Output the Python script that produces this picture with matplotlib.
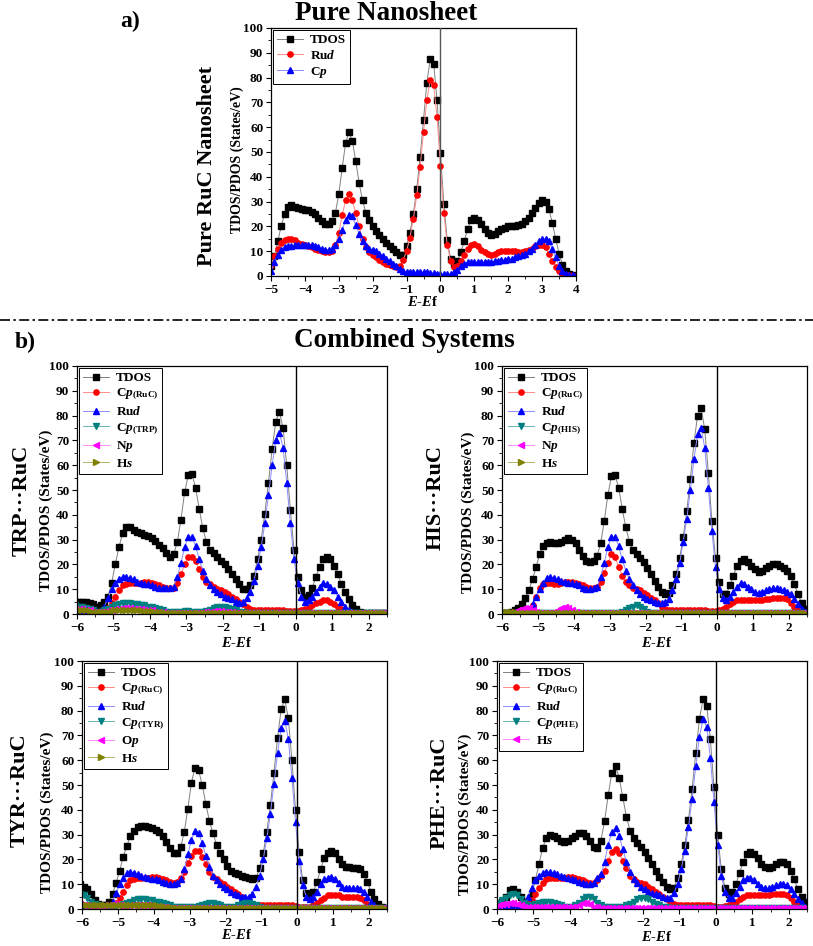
import numpy as np
import matplotlib
matplotlib.use("Agg")
import matplotlib.pyplot as plt
from matplotlib.lines import Line2D
from matplotlib.ticker import MultipleLocator

plt.rcParams['font.family'] = ['Liberation Serif', 'DejaVu Serif']
plt.rcParams['font.weight'] = 'bold'
plt.rcParams['axes.labelweight'] = 'bold'
plt.rcParams['mathtext.fontset'] = 'custom'
plt.rcParams['mathtext.rm'] = 'Liberation Serif:bold'
plt.rcParams['mathtext.it'] = 'Liberation Serif:italic:bold'
plt.rcParams['mathtext.bf'] = 'Liberation Serif:bold'

# ---------------- a) pure RuC nanosheet, E = -5.0 ... 4.0 (step 0.1)
pure_e = np.arange(91) * 0.1 - 5.0
pure_tdos = [4, 8, 14, 20, 25, 28, 28.5, 28, 27.5, 27,
             26.5, 26.5, 26, 25, 23.5, 22, 21, 21, 22, 25.5,
             33, 43.5, 53.5, 58, 54.5, 46.5, 37.5, 30.5, 25.5, 22.5,
             20, 18, 16.5, 15, 13.5, 12, 11, 9.5, 8.5, 8.5,
             12, 17.5, 25, 35, 48, 63, 78, 87.5, 85.5, 71,
             49.5, 29, 14.5, 7, 5, 6, 9.5, 14, 19, 22.5,
             23.5, 22.5, 21, 19, 17.5, 16.5, 17, 18, 19, 19.5,
             20, 20, 20, 20.5, 21, 22, 23.5, 25.5, 27.5, 29.5,
             30.5, 30, 27, 21.5, 15, 9, 4.5, 2, 1, 0.5,
             0.2]
pure_rud = [4.5, 8, 11, 13.5, 14.5, 15, 15, 14.5, 13.5, 13,
            12.5, 12, 11.5, 11, 10.5, 10, 9.5, 9.5, 10, 12.5,
            17.5, 24.5, 30.5, 33, 30.5, 25.5, 20, 15, 11.5, 9.5,
            8.5, 7.5, 6.5, 5.5, 5, 4.5, 4, 3.5, 4, 6.5,
            10, 15.5, 23, 32.5, 44, 58, 71, 79, 77, 64,
            44.5, 25.5, 12.5, 6, 3.5, 4, 6, 8.5, 11, 12.5,
            13, 12, 10.5, 9.5, 9, 8.5, 9, 9.5, 10, 10,
            10, 10, 10, 9.5, 9.5, 10, 10.5, 11, 12, 12.5,
            12.5, 11.5, 9, 6, 3.5, 2, 1, 0.5, 0.3, 0.2,
            0.1]
pure_cp = [2, 5.5, 8.5, 10.5, 11.5, 12, 12, 12.5, 12.5, 12.5,
           12.5, 12.5, 12.5, 12, 11.5, 11, 10.5, 10.5, 11, 12.5,
           15, 18.5, 22.5, 24.5, 24, 20.5, 17, 14, 12, 11,
           10.5, 10, 9, 8, 7, 6, 5, 4, 3, 2,
           1.5, 1.5, 1.5, 1.5, 1.5, 1.5, 1.5, 1.2, 1.2, 1,
           1, 0.8, 0.8, 1, 1.5, 2.5, 4, 5, 5.5, 5.5,
           5.5, 5.5, 5.5, 5.5, 5.5, 5.5, 6, 6, 6.5, 6.5,
           7, 7, 7.5, 8, 8.5, 9, 10, 11, 12.5, 14,
           15, 15, 14, 11, 7.5, 4, 2, 1, 0.5, 0.3,
           0.2]

# ---------------- b) combined systems, 86 points from -6.05 eV (step 0.1)
comb_e = np.arange(86) * 0.1 - 6.05

trp_tdos = [5, 5, 5, 5, 4.5, 4, 3, 3.5, 5, 7,
            12.5, 20, 27, 32.5, 35, 35, 34, 33, 32.5, 32,
            31.5, 30.5, 29.5, 28, 26.5, 24.5, 23, 24, 29, 38,
            49, 56, 56.5, 51, 42.5, 34.5, 29, 26, 24.5, 23,
            21.5, 20, 18, 16, 14, 12, 10, 10, 11.5, 15.5,
            22, 30, 40.5, 53, 66.5, 77.5, 81.5, 75, 60, 42,
            26, 15, 9.5, 7, 7.5, 10.5, 15, 19, 22, 23,
            22, 19.5, 16, 12, 9, 6, 3.5, 2, 1, 0.5,
            0.5, 0.5, 0.5, 0.5, 0.5, 0.5]
trp_cp = [0.5, 0.5, 0.5, 0.5, 0.5, 0.5, 0.5, 1, 1.5, 2.5,
          4.5, 7, 9.5, 11.5, 12, 12.5, 12.5, 12.5, 12.5, 13,
          13, 12.5, 12, 11.5, 11, 10.5, 10.5, 10.5, 12.5, 16,
          20, 23, 23, 21.5, 18, 15, 13, 12, 11, 10,
          9.5, 9, 8, 7, 6, 5, 4, 3, 2, 1.5,
          1.5, 1.5, 1.5, 1.5, 1.5, 1.5, 1.5, 1.5, 1.2, 1.2,
          1.2, 1.2, 1.5, 2, 2.5, 3.5, 4.5, 5, 5.5, 5.5,
          5, 4, 3, 2, 1, 0.5, 0.3, 0.3, 0.3, 0.3,
          0.3, 0.3, 0.3, 0.3, 0.3, 0.3]
trp_rud = [0.5, 0.5, 0.5, 0.5, 0.5, 0.5, 0.8, 1.5, 3, 6.5,
           10, 12.5, 14, 15, 15, 14.5, 14, 13, 12.5, 12,
           12, 11.5, 11, 10.5, 10.5, 10.5, 10.5, 11, 15, 20.5,
           27, 31, 31, 27.5, 22, 17.5, 14, 11.5, 10, 9,
           8, 7, 6.5, 6, 5, 4.5, 5, 6.5, 9, 13.5,
           19.5, 27, 36.5, 48, 60, 70, 73, 67, 53, 36.5,
           22, 12.5, 7, 5, 5.5, 7, 9, 11, 12.5, 12,
           11, 9.5, 7, 5, 3, 1.5, 0.8, 0.5, 0.5, 0.5,
           0.5, 0.5, 0.5, 0.5, 0.5, 0.5]
trp_cpx = [3.5, 3, 3, 2.5, 2, 1.5, 1, 1, 1.5, 2,
           3, 3.5, 4, 4.5, 4.5, 4.5, 4, 4, 3.5, 3.5,
           3, 3, 2.5, 2, 1.5, 1, 0.8, 0.8, 1, 1,
           1.2, 1.2, 1, 1, 1, 1, 1.2, 1.8, 2.5, 3,
           3, 3, 2.5, 2, 1.5, 1, 0.8, 0.5, 0.5, 0.5,
           0.5, 0.5, 0.5, 0.5, 0.5, 0.5, 0.5, 0.5, 0.5, 0.5,
           0.5, 0.5, 0.5, 0.5, 0.5, 0.5, 0.5, 0.5, 0.5, 0.5,
           0.5, 0.5, 0.5, 0.5, 0.5, 0.5, 0.5, 0.5, 0.5, 0.5,
           0.5, 0.5, 0.5, 0.5, 0.5, 0.5]
trp_np = [2, 2, 2, 1.5, 1.5, 1, 1, 1, 1, 1.5,
          1.5, 2, 2, 2.5, 2.5, 2.5, 2, 2, 2, 1.5,
          1.5, 1.5, 1, 1, 0.8, 0.5, 0.5, 0.5, 0.5, 0.5,
          0.5, 0.5, 0.5, 0.5, 0.5, 0.8, 1, 1, 1.2, 1.2,
          1.2, 1, 1, 0.8, 0.5, 0.5, 0.5, 0.5, 0.5, 0.5,
          0.5, 0.5, 0.5, 0.5, 0.5, 0.5, 0.5, 0.5, 0.5, 0.5,
          0.5, 0.5, 0.5, 0.5, 0.5, 0.5, 0.5, 0.5, 0.5, 0.5,
          0.5, 0.5, 0.5, 0.5, 0.5, 0.5, 0.5, 0.5, 0.5, 0.5,
          0.5, 0.5, 0.5, 0.5, 0.5, 0.5]
trp_hs = [1.5, 1.5, 1.5, 1.5, 1.2, 1, 0.8, 0.8, 0.8, 1,
          1.2, 1.5, 1.5, 1.5, 1.5, 1.5, 1.5, 1.5, 1.5, 1.2,
          1.2, 1.2, 1, 1, 0.8, 0.5, 0.3, 0.3, 0.3, 0.3,
          0.3, 0.3, 0.3, 0.3, 0.3, 0.3, 0.3, 0.3, 0.3, 0.3,
          0.3, 0.3, 0.3, 0.3, 0.3, 0.3, 0.3, 0.3, 0.3, 0.3,
          0.3, 0.3, 0.3, 0.3, 0.3, 0.3, 0.3, 0.3, 0.3, 0.3,
          0.3, 0.3, 0.3, 0.3, 0.3, 0.3, 0.3, 0.3, 0.3, 0.3,
          0.3, 0.3, 0.3, 0.3, 0.3, 0.3, 0.3, 0.3, 0.3, 0.3,
          0.3, 0.3, 0.3, 0.3, 0.3, 0.3]

his_tdos = [0.5, 0.5, 0.5, 0.8, 1.5, 2.5, 4, 6.5, 9.5, 14,
            19, 24, 27.5, 28.5, 29, 28.5, 28.5, 29, 30, 30.5,
            30, 28.5, 26, 23.5, 21.5, 21, 21.5, 23.5, 28.5, 37.5,
            48, 55.5, 56, 51, 42.5, 35, 29, 26, 24, 22.5,
            21, 18.5, 16, 13.5, 11, 9, 8, 8.5, 11.5, 16,
            22.5, 31, 41.5, 54.5, 69, 80, 83, 74.5, 57, 37.5,
            22.5, 13, 8, 8, 11.5, 15.5, 19.5, 21.5, 22, 21,
            19.5, 18, 17, 17.5, 18.5, 19.5, 20, 20, 19.5, 18.5,
            17.5, 15.5, 12, 8, 4.5, 2]
his_cp = [0.3, 0.3, 0.3, 0.3, 0.3, 0.3, 0.5, 0.8, 1.5, 3.5,
          7, 10.5, 12, 12.5, 12.5, 12, 12, 12.5, 13, 13,
          13, 12.5, 12, 11.5, 11, 10.5, 10.5, 11, 13, 16.5,
          20.5, 24, 23, 19, 15.5, 13, 11.5, 10.5, 10, 9.5,
          8.5, 7.5, 6.5, 5.5, 4.5, 3, 2, 1.5, 1.5, 1.5,
          1.5, 1.5, 1.5, 1.5, 1.5, 1.5, 1.5, 1.5, 1.2, 1.2,
          1.2, 1.5, 2, 3, 4, 5, 5.5, 5.5, 5.5, 5.5,
          5.5, 5.5, 5.5, 5.5, 6, 6, 6.5, 6.5, 6.5, 6.5,
          6, 4.5, 3, 1.5, 0.5, 0.3]
his_rud = [0.3, 0.3, 0.3, 0.3, 0.3, 0.3, 0.5, 1, 2, 4,
           7, 10, 12.5, 14.5, 15, 14.5, 14, 13.5, 13, 12.5,
           12.5, 12, 11.5, 10.5, 10, 10, 10.5, 11, 15, 20.5,
           27, 31, 31, 27.5, 22, 17.5, 14, 11.5, 9.5, 8,
           7, 6, 5.5, 5, 4.5, 4.5, 5, 6, 9.5, 14,
           20.5, 29, 38.5, 50, 62.5, 72.5, 75, 67, 51, 33.5,
           19, 10, 6.5, 5.5, 7, 9, 11, 12.5, 12, 11,
           10, 9, 8.5, 9, 9.5, 10, 10.5, 10.5, 10, 9.5,
           9, 8, 6, 4, 2, 1]
his_cpx = [0.5, 0.5, 0.5, 0.5, 0.5, 0.5, 0.5, 0.5, 0.5, 0.5,
           0.5, 0.5, 0.5, 0.5, 0.5, 0.5, 0.5, 0.5, 0.5, 0.5,
           0.5, 0.5, 0.5, 0.5, 0.5, 0.5, 0.5, 0.5, 0.5, 0.5,
           0.3, 0.3, 0.3, 0.3, 0.8, 1.5, 2.5, 3, 3.5, 3,
           2, 1, 0.5, 0.3, 0.3, 0.3, 0.3, 0.3, 0.3, 0.3,
           0.3, 0.3, 0.3, 0.3, 0.3, 0.3, 0.3, 0.3, 0.3, 0.3,
           0.3, 0.3, 0.3, 0.3, 0.3, 0.3, 0.3, 0.3, 0.3, 0.3,
           0.3, 0.3, 0.3, 0.3, 0.3, 0.3, 0.3, 0.3, 0.3, 0.3,
           0.3, 0.3, 0.3, 0.3, 0.3, 0.3]
his_np = [0.3, 0.3, 0.3, 0.5, 1, 1.5, 2, 2.5, 2.5, 1.5,
          0.8, 0.5, 0.5, 0.5, 0.5, 0.8, 1.5, 2.5, 3, 2.5,
          1.5, 0.8, 0.5, 0.3, 0.3, 0.3, 0.3, 0.3, 0.3, 0.3,
          0.3, 0.3, 0.3, 0.3, 0.3, 0.3, 0.3, 0.3, 0.3, 0.3,
          0.3, 0.3, 0.3, 0.3, 0.3, 0.3, 0.3, 0.3, 0.3, 0.3,
          0.3, 0.3, 0.3, 0.3, 0.3, 0.3, 0.3, 0.3, 0.3, 0.3,
          0.3, 0.3, 0.3, 0.3, 0.3, 0.3, 0.3, 0.3, 0.3, 0.3,
          0.3, 0.3, 0.3, 0.3, 0.3, 0.3, 0.3, 0.3, 0.3, 0.3,
          0.3, 0.3, 0.3, 0.3, 0.3, 0.3]
his_hs = [0.8, 0.8, 0.8, 0.8, 0.8, 0.5, 0.5, 0.5, 0.5, 0.5,
          0.5, 0.5, 0.5, 0.5, 0.5, 0.5, 0.5, 0.5, 0.5, 0.5,
          0.5, 0.5, 0.5, 0.5, 0.5, 0.5, 0.5, 0.5, 0.5, 0.5,
          0.5, 0.5, 0.5, 0.5, 0.5, 0.5, 0.5, 0.5, 0.5, 0.5,
          0.5, 0.5, 0.5, 0.5, 0.5, 0.5, 0.5, 0.5, 0.5, 0.5,
          0.5, 0.5, 0.5, 0.5, 0.5, 0.5, 0.5, 0.5, 0.5, 0.5,
          0.5, 0.5, 0.5, 0.5, 0.5, 0.5, 0.5, 0.5, 0.5, 0.5,
          0.5, 0.5, 0.5, 0.5, 0.5, 0.5, 0.5, 0.5, 0.5, 0.5,
          0.5, 0.5, 0.5, 0.5, 0.5, 0.5]

tyr_tdos = [10, 9, 8, 6, 3.5, 2, 1.5, 1.5, 3, 6,
            10.5, 15.5, 21, 25.5, 29.5, 31.5, 33, 33.5, 33.5, 33,
            32.5, 32, 31, 29.5, 27, 24.5, 22.5, 22.5, 25, 31,
            40.5, 51, 57, 56, 50, 42.5, 35.5, 30.5, 26, 22.5,
            20, 17.5, 15.5, 14.5, 14, 13.5, 13, 12.5, 12, 12.5,
            16.5, 22.5, 31, 42, 55, 69, 80.5, 84.5, 77, 60,
            40, 23, 11.5, 6.5, 5, 7, 11, 16, 20.5, 22.5,
            23.5, 22.5, 20, 18, 17, 17, 16.5, 16.5, 16, 14,
            11, 7, 4, 2, 1, 0.5]
tyr_cp = [0.3, 0.3, 0.3, 0.3, 0.3, 0.3, 0.3, 0.3, 0.8, 1.5,
          2.5, 4.5, 7, 9.5, 11.5, 12, 12.5, 12.5, 12.5, 12.5,
          13, 13, 12.5, 12, 11.5, 11, 10.5, 11, 12.5, 15,
          18.5, 21.5, 23.5, 23.5, 21, 18, 15, 13, 12, 11,
          10, 9, 8, 7, 6, 5, 4, 3, 2, 1.8,
          1.5, 1.5, 1.5, 1.5, 1.5, 1.5, 1.5, 1.5, 1.5, 1.5,
          1.2, 1, 1, 1, 1, 1.5, 2.5, 3.5, 4.5, 5.5,
          5.5, 5.5, 5.5, 5, 5, 5, 5, 5, 4.5, 3.5,
          2, 1, 0.5, 0.3, 0.3, 0.3]
tyr_rud = [0.3, 0.3, 0.3, 0.3, 0.3, 0.3, 0.3, 0.5, 1, 3,
           6.5, 10, 12.5, 14.5, 15, 14.5, 14, 13.5, 13, 12.5,
           12, 12, 11.5, 11, 10.5, 10, 10, 10.5, 12, 16,
           22, 28, 31.5, 30.5, 26.5, 21.5, 17, 13.5, 11.5, 10,
           9, 8, 7, 6, 5.5, 5, 5, 5, 6, 9,
           13.5, 20, 28.5, 38.5, 50.5, 63, 73, 76, 68.5, 53,
           35, 19.5, 9.5, 5, 4, 5, 7, 10, 12, 12.5,
           13, 12, 10.5, 9, 8.5, 8.5, 8.5, 8.5, 8, 7,
           5, 3, 1.5, 0.5, 0.3, 0.3]
tyr_cpx = [6, 5.5, 4.5, 3, 2, 1.5, 1, 1, 1, 1,
           1.2, 1.5, 2, 2.5, 3, 3.5, 4, 4, 4, 3.5,
           3.5, 3, 3, 2.5, 2, 1.5, 1, 0.8, 0.8, 0.8,
           0.8, 0.8, 1, 1.2, 1.5, 2, 2.5, 2.5, 2, 1.5,
           1, 0.8, 0.8, 1, 1.5, 2, 2.5, 2.5, 2, 1.5,
           1, 0.5, 0.5, 0.5, 0.5, 0.5, 0.5, 0.5, 0.5, 0.5,
           0.5, 0.5, 0.5, 0.5, 0.5, 0.5, 0.5, 0.5, 0.5, 0.5,
           0.5, 0.5, 0.5, 0.5, 0.5, 0.5, 0.5, 0.5, 0.5, 0.5,
           0.5, 0.5, 0.5, 0.5, 0.5, 0.5]
tyr_op = [2, 1.5, 1.5, 1, 1, 1, 1, 1.5, 1.5, 2,
          2, 1.5, 1, 1, 1.5, 1.5, 1.5, 1.5, 1.5, 1.5,
          1, 1, 1, 0.8, 0.8, 0.5, 0.5, 0.5, 0.5, 0.5,
          0.5, 0.5, 0.5, 0.5, 0.5, 0.5, 0.5, 0.5, 0.5, 0.5,
          0.5, 0.5, 0.5, 0.5, 0.5, 0.5, 0.5, 0.5, 0.5, 0.5,
          0.5, 0.5, 0.5, 0.5, 0.5, 0.5, 0.5, 0.5, 0.5, 0.5,
          0.5, 0.5, 0.5, 0.5, 0.5, 0.5, 0.5, 0.5, 0.5, 0.5,
          0.5, 0.5, 0.5, 0.5, 0.5, 0.5, 0.5, 0.5, 0.5, 0.5,
          0.5, 0.5, 0.5, 0.5, 0.5, 0.5]
tyr_hs = [1.5, 1.5, 1.5, 1.5, 1.5, 1.5, 1.5, 1.5, 1.5, 1.5,
          1.5, 1.5, 1.5, 1.5, 1.5, 1.5, 1.5, 1.5, 1.5, 1.5,
          1.5, 1.5, 1.2, 1.2, 1, 0.8, 0.5, 0.3, 0.3, 0.3,
          0.3, 0.3, 0.3, 0.3, 0.3, 0.3, 0.3, 0.3, 0.3, 0.3,
          0.3, 0.3, 0.3, 0.3, 0.3, 0.3, 0.3, 0.3, 0.3, 0.3,
          0.3, 0.3, 0.3, 0.3, 0.3, 0.3, 0.3, 0.3, 0.3, 0.3,
          0.3, 0.3, 0.3, 0.3, 0.3, 0.3, 0.3, 0.3, 0.3, 0.3,
          0.3, 0.3, 0.3, 0.3, 0.3, 0.3, 0.3, 0.3, 0.3, 0.3,
          0.3, 0.3, 0.3, 0.3, 0.3, 0.3]

phe_tdos = [1.5, 2, 3, 5, 7.5, 8, 7, 5, 3, 3,
            6, 11.5, 18, 24.5, 28.5, 30, 29.5, 28.5, 27.5, 27,
            27.5, 28.5, 29.5, 30.5, 30.5, 29.5, 27.5, 25, 24.5, 27.5,
            35.5, 46, 55, 57.5, 53, 45, 37, 31.5, 28.5, 26.5,
            25, 23, 20.5, 18, 15.5, 13, 11, 9, 8, 8.5,
            12.5, 18, 26, 36, 48.5, 63, 76.5, 84.5, 82, 68.5,
            49, 30, 16, 8.5, 6, 7, 10, 14.5, 19, 22,
            23, 22, 20.5, 18, 17, 16.5, 17, 18, 19, 19,
            18, 15.5, 12, 8, 5, 3]
phe_cp = [0.3, 0.3, 0.3, 0.3, 0.3, 0.3, 0.3, 0.3, 1, 2,
          3.5, 6, 8.5, 10.5, 12, 12.5, 12.5, 12.5, 12.5, 12.5,
          13, 13, 12.5, 12, 11.5, 11, 10.5, 10.5, 11.5, 13.5,
          15.5, 19.5, 23, 24, 22.5, 19.5, 16.5, 13.5, 12, 11,
          10.5, 10, 9, 8, 7, 6, 5, 4, 3, 2,
          1.5, 1.5, 1.5, 1.5, 1.5, 1.5, 1.5, 1.5, 1.5, 1.5,
          1.2, 1, 1, 1.2, 1.5, 2, 3, 4, 5, 5.5,
          5.5, 5.5, 5.5, 5.5, 5.5, 5.5, 6, 6, 6, 6,
          5.5, 4.5, 3, 2, 1, 0.5]
phe_rud = [0.3, 0.3, 0.3, 0.3, 0.3, 0.3, 0.5, 1, 2.5, 5,
           8.5, 11.5, 13.5, 14.5, 15, 15, 14.5, 14, 13.5, 13,
           12.5, 12, 11.5, 11, 10.5, 10, 10, 10.5, 12.5, 14,
           19, 26, 31, 32.5, 29.5, 24, 19, 15, 12, 10.5,
           9, 8, 7, 6.5, 6, 5.5, 5, 4.5, 4.5, 6.5,
           10, 16, 23.5, 33, 44.5, 57.5, 69.5, 76.5, 73.5, 61,
           43, 26, 13.5, 7, 4.5, 4.5, 6.5, 9, 11.5, 12.5,
           12.5, 11.5, 10, 9, 8.5, 8.5, 9, 9.5, 10, 10,
           9.5, 8, 6, 4, 2.5, 1]
phe_cpx = [2, 2.5, 3.5, 4.5, 5.5, 6, 5.5, 4, 2.5, 1.5,
           1.5, 2, 2.5, 3, 3, 3, 2.5, 2, 1.5, 1,
           1, 1, 1.5, 2.5, 4, 5, 5, 4, 2.5, 1.5,
           1, 0.8, 0.8, 0.8, 1, 1, 1.5, 2, 3, 4,
           4.5, 4.5, 4, 3, 2, 1.5, 1, 0.8, 0.5, 0.5,
           0.5, 0.5, 0.5, 0.5, 0.5, 0.5, 0.5, 0.5, 0.5, 0.5,
           0.5, 0.5, 0.5, 0.5, 0.5, 0.5, 0.5, 0.5, 0.5, 0.5,
           0.5, 0.5, 0.5, 0.5, 0.5, 0.5, 0.5, 0.5, 0.5, 0.5,
           0.5, 0.5, 0.5, 0.5, 0.5, 0.5]
phe_hs = [1, 1.5, 2, 2, 2.5, 2.5, 2, 1.5, 1, 0.8,
          0.8, 1, 1, 1, 1, 0.8, 0.8, 0.8, 0.8, 0.8,
          0.8, 0.8, 1, 1.5, 2.5, 2.5, 2, 1, 0.8, 0.5,
          0.5, 0.5, 0.5, 0.5, 0.5, 0.5, 0.5, 0.5, 0.5, 0.5,
          0.5, 0.5, 0.5, 0.5, 0.5, 0.5, 0.5, 0.5, 0.5, 0.5,
          0.5, 0.5, 0.5, 0.5, 0.5, 0.5, 0.5, 0.5, 0.5, 0.5,
          0.5, 0.5, 0.5, 0.5, 0.5, 0.5, 0.5, 0.5, 0.5, 0.5,
          0.5, 0.5, 0.5, 0.5, 0.5, 0.5, 0.5, 0.5, 0.5, 0.5,
          0.5, 0.5, 0.5, 0.5, 0.5, 0.5]

# line colour, marker, marker colour
STY = {
    'black': ('#808080', 's', 'black'),
    'red': ('#ff8c8c', 'o', 'red'),
    'blue': ('#8c8cff', '^', 'blue'),
    'teal': ('#66b3b3', 'v', '#008080'),
    'magenta': ('#ff8cff', '<', '#ff00ff'),
    'olive': ('#b3b366', '>', '#808000'),
}

W, H = 813, 946
fig = plt.figure(figsize=(W / 100, H / 100), dpi=100)


def px_axes(left, top, right, bottom):
    return fig.add_axes([left / W, 1 - bottom / H, (right - left) / W, (bottom - top) / H])


def ftext(x, y, s, **kw):
    fig.text(x / W, 1 - y / H, s, ha='center', va='center', **kw)


def draw_panel(ax, e, series, xlim, zero_color='black'):
    for y, name, lab in series:
        lc, mk, mc = STY[name]
        ax.plot(e, y, '-', color=lc, lw=0.7, marker=mk, ms=3.8,
                mfc=mc, mec=mc, label=lab)
    ax.axvline(0, color=zero_color, lw=1.0, zorder=5)
    ax.set_xlim(*xlim)
    ax.set_ylim(0, 100)
    ax.xaxis.set_major_locator(MultipleLocator(1))
    ax.xaxis.set_minor_locator(MultipleLocator(0.5))
    ax.yaxis.set_major_locator(MultipleLocator(10))
    ax.yaxis.set_minor_locator(MultipleLocator(5))
    ax.tick_params(which='both', direction='out', top=False, right=False,
                   labelsize=9.5, pad=2)
    ax.tick_params(which='major', length=3.5, width=0.8)
    ax.tick_params(which='minor', length=2, width=0.6)
    for sp in ax.spines.values():
        sp.set_linewidth(0.9)
    leg = ax.legend(loc='upper left', borderaxespad=0.15, fancybox=False,
                    edgecolor='black', framealpha=1, handlelength=2.0,
                    handletextpad=0.5, labelspacing=0.22, borderpad=0.3,
                    prop={'weight': 'bold', 'size': 9.5})
    leg.get_frame().set_linewidth(0.7)


XLAB = r'$E$-$E$f'
YLAB = 'TDOS/PDOS (States/eV)'

# ---- a) pure nanosheet
ax_a = px_axes(271, 28, 576, 276)
draw_panel(ax_a, pure_e,
           [(pure_tdos, 'black', 'TDOS'),
            (pure_rud, 'red', r'Ru$d$'),
            (pure_cp, 'blue', r'C$p$')],
           (-5, 4), zero_color='#555555')
ftext(130, 21, 'a)', fontsize=17, fontweight='bold')
ftext(386, 14, 'Pure Nanosheet', fontsize=19.5, fontweight='bold')
ftext(207, 166, 'Pure RuC Nanosheet', fontsize=16, fontweight='bold', rotation=90)
ftext(237, 160, YLAB, fontsize=10, fontweight='bold', rotation=90)
ftext(423, 302, XLAB, fontsize=10.5)

# separator
fig.add_artist(Line2D([0, 1], [1 - 320 / H, 1 - 320 / H], color='black',
                      lw=1.2, ls=(0, (6, 2, 1.5, 2))))

ftext(25, 342, 'b)', fontsize=17, fontweight='bold')
ftext(404, 340, 'Combined Systems', fontsize=19.5, fontweight='bold')

DOTS = '\u00b7\u00b7\u00b7'
panels = [
    ((77, 366, 387, 614), 'TRP', 'N',
     [trp_tdos, trp_cp, trp_rud, trp_cpx, trp_np, trp_hs],
     (22, 500), (46, 510), (237, 643)),
    ((502, 366, 807, 614), 'HIS', 'N',
     [his_tdos, his_cp, his_rud, his_cpx, his_np, his_hs],
     (436, 497), (468, 512), (657, 643)),
    ((82, 661, 387, 909), 'TYR', 'O',
     [tyr_tdos, tyr_cp, tyr_rud, tyr_cpx, tyr_op, tyr_hs],
     (20, 790), (47, 812), (237, 935)),
    ((497, 661, 807, 909), 'PHE', None,
     [phe_tdos, phe_cp, phe_rud, phe_cpx, phe_hs],
     (440, 793), (465, 814), (657, 937)),
]

for box, amino, hetero, ys, big_xy, small_xy, xl_xy in panels:
    ax = px_axes(*box)
    names = ['black', 'red', 'blue', 'teal']
    labels = ['TDOS', r'C$p_{\rm (RuC)}$', r'Ru$d$', r'C$p_{\rm (%s)}$' % amino]
    if hetero is not None:
        names += ['magenta', 'olive']
        labels += [r'%s$p$' % hetero, r'H$s$']
    else:
        names += ['magenta']
        labels += [r'H$s$']
    draw_panel(ax, comb_e, list(zip(ys, names, labels)), (-6, 2.5))
    ftext(*big_xy, amino + DOTS + 'RuC', fontsize=16, fontweight='bold', rotation=90)
    ftext(*small_xy, YLAB, fontsize=11, fontweight='bold', rotation=90)
    ftext(*xl_xy, XLAB, fontsize=10.5)

fig.savefig('out.png', dpi=100)
